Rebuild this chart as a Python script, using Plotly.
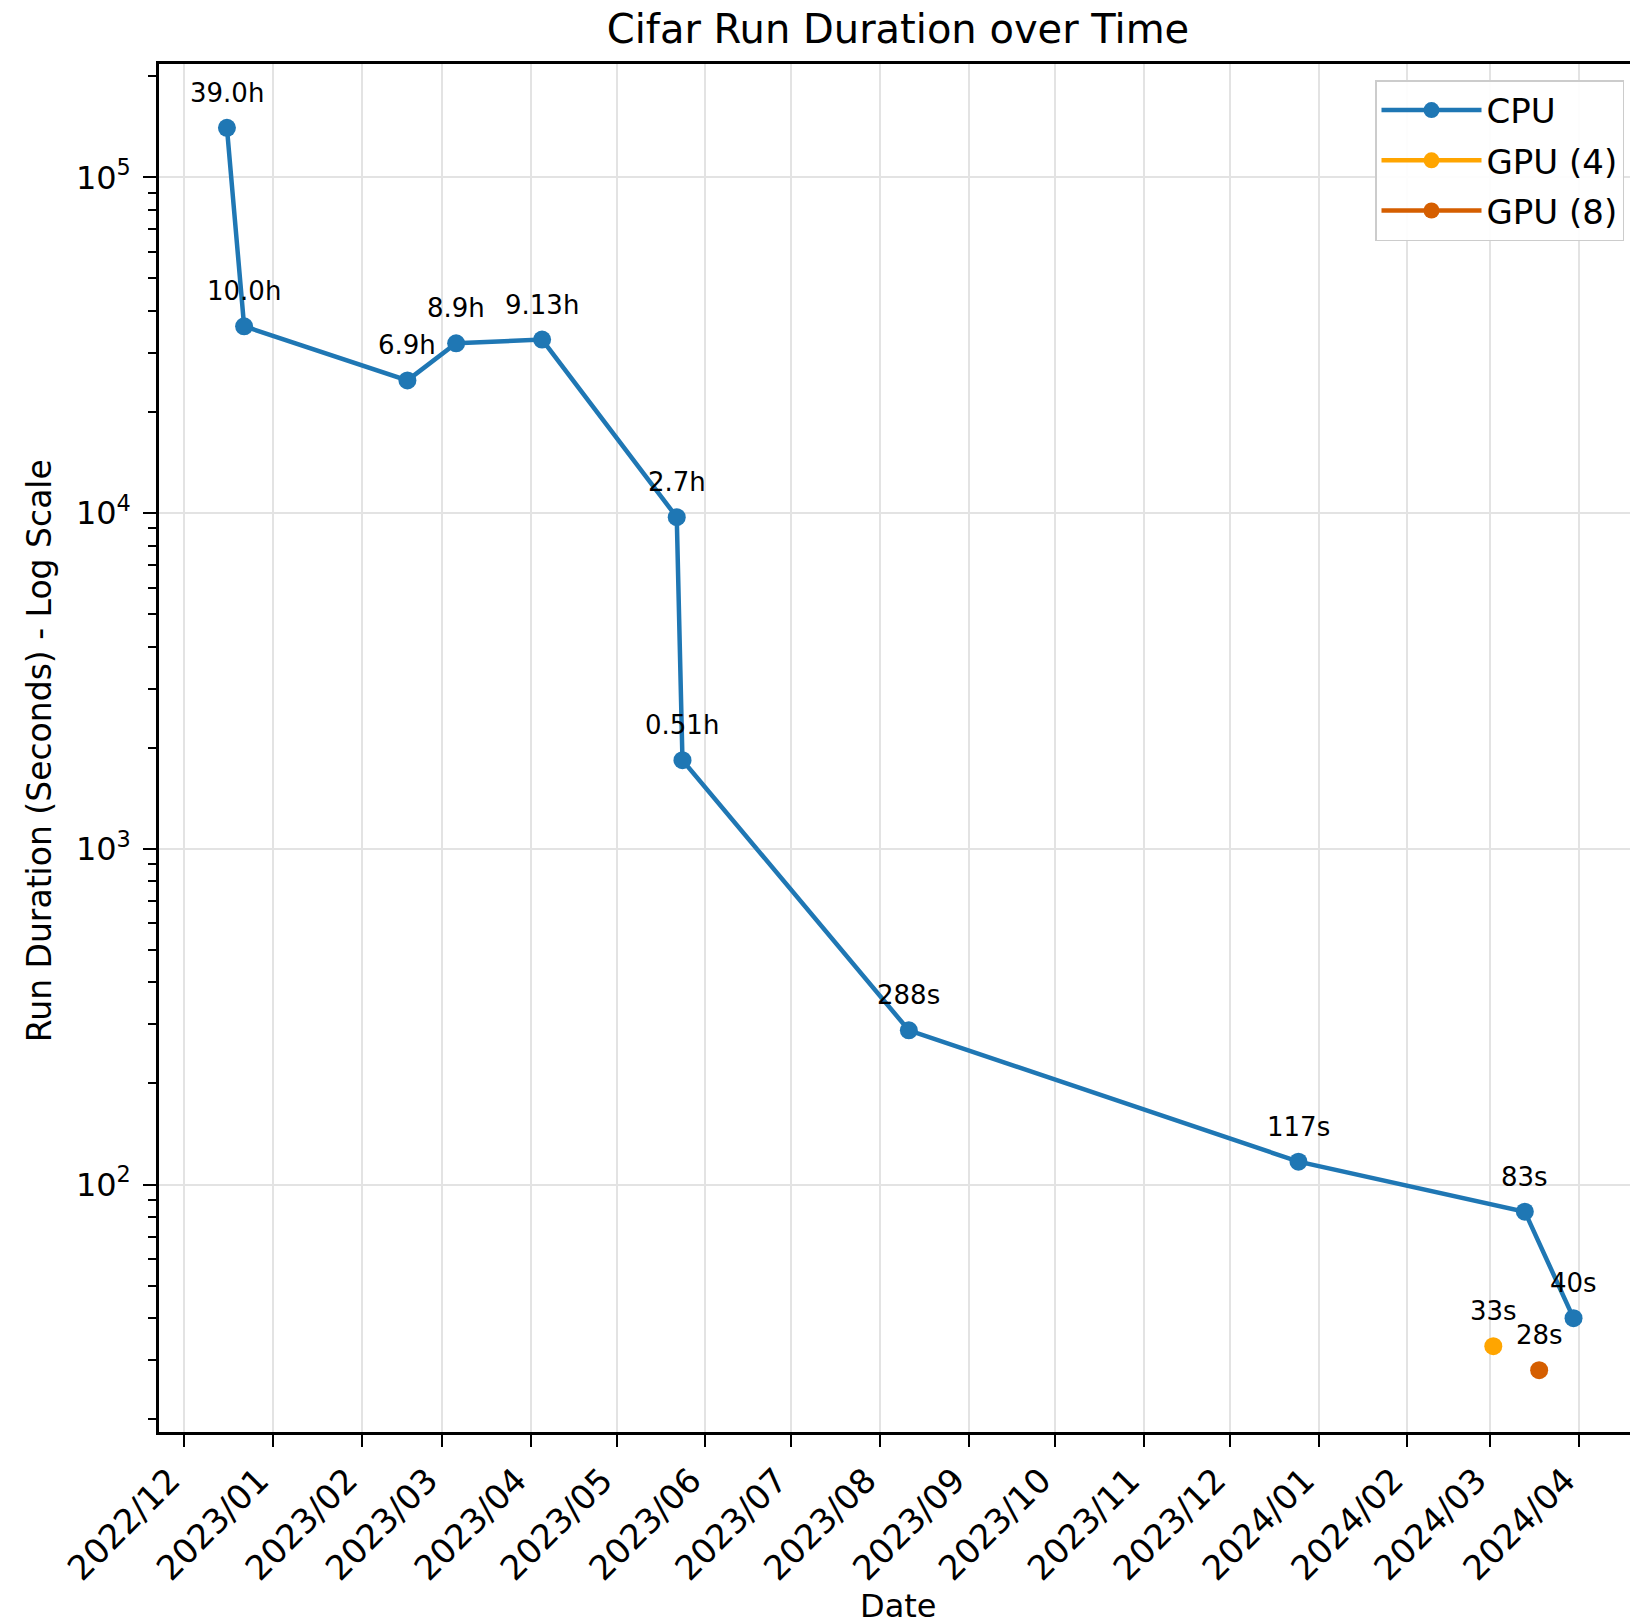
import numpy as np
import plotly.graph_objects as go

# ---- data ----
cpu_dates = ["2022-12-16", "2022-12-22", "2023-02-17", "2023-03-06", "2023-04-05",
             "2023-05-22", "2023-05-24", "2023-08-11", "2023-12-25", "2024-03-13", "2024-03-30"]
cpu_seconds = [140400, 36000, 24840, 32040, 32868, 9720, 1836, 288, 117, 83, 40]
cpu_labels = ["39.0h", "10.0h", "6.9h", "8.9h", "9.13h", "2.7h", "0.51h", "288s", "117s", "83s", "40s"]

gpu4_dates = ["2024-03-02"]
gpu4_seconds = [33]
gpu4_labels = ["33s"]

gpu8_dates = ["2024-03-18"]
gpu8_seconds = [28]
gpu8_labels = ["28s"]

month_ticks = ["2022-12-01", "2023-01-01", "2023-02-01", "2023-03-01", "2023-04-01", "2023-05-01",
               "2023-06-01", "2023-07-01", "2023-08-01", "2023-09-01", "2023-10-01", "2023-11-01",
               "2023-12-01", "2024-01-01", "2024-02-01", "2024-03-01", "2024-04-01"]
month_labels = ["2022/12", "2023/01", "2023/02", "2023/03", "2023/04", "2023/05", "2023/06",
                "2023/07", "2023/08", "2023/09", "2023/10", "2023/11", "2023/12", "2024/01",
                "2024/02", "2024/03", "2024/04"]

y_major = [100, 1000, 10000, 100000]
y_major_labels = ["10<sup>2</sup>", "10<sup>3</sup>", "10<sup>4</sup>", "10<sup>5</sup>"]
y_minor = [m * 10 ** k for k in range(1, 6) for m in range(2, 10)]

FONT = "DejaVu Sans"
CPU_C = "#1f77b4"
GPU4_C = "#FFA500"
GPU8_C = "#D55E00"

L, T, B = 159, 64, 192
W, H = 1630, 1624
PW, PH = W - L, H - T - B

fig = go.Figure()
for name, dates, vals, col in [("CPU", cpu_dates, cpu_seconds, CPU_C),
                               ("GPU (4)", gpu4_dates, gpu4_seconds, GPU4_C),
                               ("GPU (8)", gpu8_dates, gpu8_seconds, GPU8_C)]:
    fig.add_trace(go.Scatter(x=dates, y=vals, mode="lines+markers", name=name, legendgroup=name,
                             line=dict(color=col, width=4.5), marker=dict(size=18, color=col)))

for dates, vals, labels in [(cpu_dates, cpu_seconds, cpu_labels),
                            (gpu4_dates, gpu4_seconds, gpu4_labels),
                            (gpu8_dates, gpu8_seconds, gpu8_labels)]:
    for d, v, t in zip(dates, vals, labels):
        fig.add_annotation(x=d, y=np.log10(v), text=t, showarrow=False, xref="x", yref="y",
                           yshift=35, font=dict(family=FONT, size=26, color="black"))

# axis titles
fig.add_annotation(text="Date", xref="paper", yref="paper", x=(898 - L) / PW, y=-(1606 - 1432) / PH,
                   xanchor="center", yanchor="middle", showarrow=False,
                   font=dict(family=FONT, size=32, color="black"))
fig.add_annotation(text="Run Duration (Seconds) - Log Scale", xref="paper", yref="paper",
                   x=(39.5 - L) / PW, y=0.498, textangle=-90, xanchor="center", yanchor="middle",
                   showarrow=False, font=dict(family=FONT, size=33, color="black"))

grid_c = "#e3e3e3"
fig.update_layout(
    width=W, height=H,
    margin=dict(l=L, r=0, t=T, b=B),
    paper_bgcolor="white", plot_bgcolor="white",
    font=dict(family=FONT, color="black", size=31),
    title=dict(text="Cifar Run Duration over Time", x=898 / W, xanchor="center",
               y=1 - 29 / H, yanchor="middle", font=dict(family=FONT, size=40, color="black")),
    showlegend=True,
    legend=dict(x=(1624 - L) / PW, xanchor="right", y=1 - 16 / PH, yanchor="top",
                bgcolor="rgba(255,255,255,0.9)", bordercolor="#cccccc", borderwidth=1.5,
                font=dict(family=FONT, size=34, color="black"), tracegroupgap=3,
                itemwidth=100),
    xaxis=dict(
        type="date", automargin=False,
        range=["2022-11-22 07:00", "2024-04-18 17:00"],
        tickmode="array", tickvals=month_ticks, ticktext=month_labels,
        tickangle=-45, ticks="outside", ticklen=12, tickwidth=2, tickcolor="black",
        ticklabelshift=-14,
        showgrid=True, gridcolor=grid_c, gridwidth=2,
        showline=True, linecolor="black", linewidth=2.5, mirror=True,
        zeroline=False,
        tickfont=dict(family=FONT, size=34, color="black"),
    ),
    yaxis=dict(
        type="log", automargin=False,
        range=[1.263, 5.3375],
        tickmode="array", tickvals=y_major, ticktext=y_major_labels,
        ticks="outside", ticklen=13, tickwidth=2, tickcolor="black",
        ticklabelstandoff=6,
        minor=dict(tickmode="array", tickvals=y_minor, ticks="outside", ticklen=8,
                   tickwidth=1.5, tickcolor="black", showgrid=False),
        showgrid=True, gridcolor=grid_c, gridwidth=2,
        showline=True, linecolor="black", linewidth=2.5, mirror=False,
        zeroline=False,
        tickfont=dict(family=FONT, size=32, color="black"),
    ),
)

fig.write_html("out.html", post_script="document.body.style.margin='0px';",
               config={"displayModeBar": False})
